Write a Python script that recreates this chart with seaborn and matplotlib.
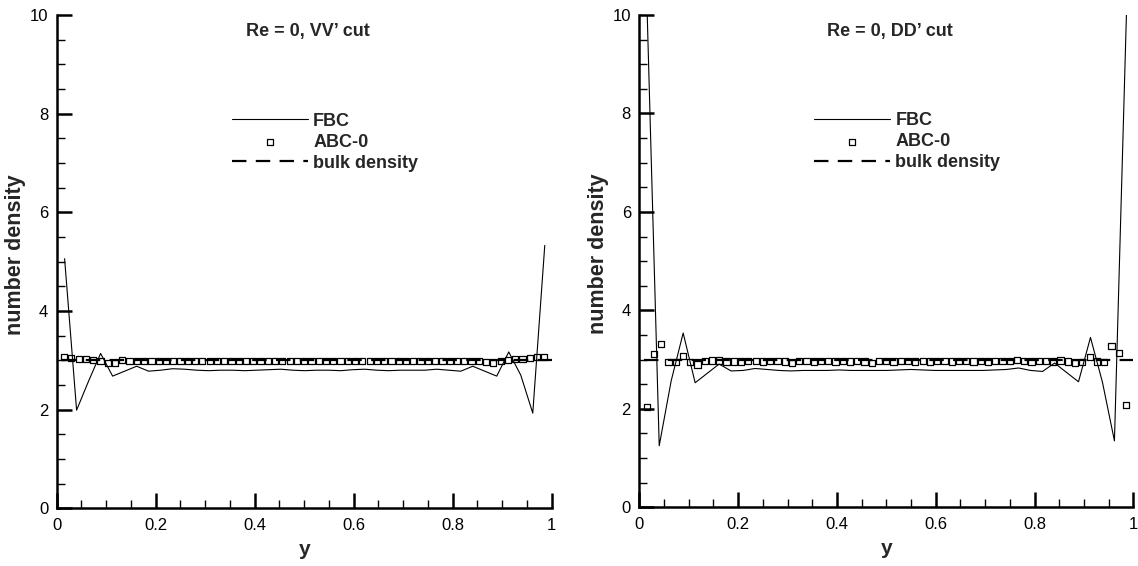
import numpy as np
import pandas as pd
import matplotlib
matplotlib.use("Agg")
import matplotlib.pyplot as plt
from matplotlib.ticker import MultipleLocator, FormatStrFormatter
import seaborn as sns

# ---------------- data ----------------
# FBC sampling grid (uniform mesh across the channel)
FBC_Y = np.linspace(0.016, 0.986, 41)
# ABC-0 sampling grid
ABC_Y = np.linspace(0.015, 0.985, 67)

FBC_VV = [5.06, 1.99, 2.58, 3.14, 2.68, 2.78, 2.88, 2.78, 2.80, 2.83,
          2.82, 2.80, 2.79, 2.80, 2.80, 2.79, 2.80, 2.81, 2.82, 2.80,
          2.79, 2.80, 2.80, 2.79, 2.81, 2.82, 2.80, 2.79, 2.80, 2.80,
          2.80, 2.82, 2.80, 2.78, 2.88, 2.78, 2.68, 3.17, 2.70, 1.93,
          5.33]

FBC_DD = [10.0, 1.25, 2.57, 3.54, 2.53, 2.72, 2.91, 2.77, 2.78, 2.82,
          2.80, 2.78, 2.77, 2.78, 2.78, 2.78, 2.79, 2.78, 2.78, 2.78,
          2.78, 2.79, 2.80, 2.79, 2.78, 2.78, 2.78, 2.78, 2.78, 2.79,
          2.80, 2.83, 2.78, 2.76, 2.93, 2.74, 2.55, 3.45, 2.54, 1.35,
          10.0]

ABC_VV = [3.07, 3.05, 3.02, 3.02, 3.01, 2.99, 2.95, 2.95, 3.00, 2.99,
          2.99, 2.98, 2.98, 2.99, 2.98, 2.98, 2.99, 2.98, 2.98, 2.98,
          2.99, 2.98, 2.98, 2.98, 2.99, 2.98, 2.98, 2.98, 2.98, 2.99,
          2.98, 2.98, 2.98, 2.98, 2.98, 2.99, 2.98, 2.98, 2.98, 2.99,
          2.98, 2.98, 2.98, 2.98, 2.99, 2.98, 2.98, 2.98, 2.98, 2.99,
          2.98, 2.98, 2.98, 2.98, 2.99, 2.98, 2.98, 2.98, 2.97, 2.95,
          2.99, 3.01, 3.02, 3.02, 3.04, 3.06, 3.07]

ABC_DD = [2.03, 3.11, 3.31, 2.95, 2.95, 3.07, 2.95, 2.90, 2.97, 2.98,
          2.98, 2.96, 2.96, 2.96, 2.97, 2.97, 2.96, 2.97, 2.97, 2.96,
          2.93, 2.97, 2.97, 2.96, 2.97, 2.97, 2.96, 2.97, 2.96, 2.97,
          2.96, 2.93, 2.97, 2.97, 2.96, 2.97, 2.97, 2.96, 2.97, 2.96,
          2.97, 2.97, 2.96, 2.97, 2.97, 2.96, 2.97, 2.96, 2.97, 2.97,
          2.97, 3.00, 2.97, 2.96, 2.97, 2.97, 2.96, 2.98, 2.96, 2.93,
          2.95, 3.06, 2.96, 2.95, 3.27, 3.13, 2.08]

BULK_Y = [0.01, 1.0]
BULK_VALUE = [3.0, 3.0]

TITLES = ["Re = 0, VV\u2019 cut", "Re = 0, DD\u2019 cut"]
LABELS = ["FBC", "ABC-0", "bulk density"]
X_LABEL = "y"
Y_LABEL = "number density"

# ---------------- style ----------------
sns.set_theme(style="ticks")
plt.rcParams["font.family"] = ["Liberation Sans", "DejaVu Sans"]
plt.rcParams["axes.unicode_minus"] = False

fig = plt.figure(figsize=(11.38, 5.66), dpi=100)
ax1 = fig.add_axes([0.0498, 0.1019, 0.4350, 0.8716])
ax2 = fig.add_axes([0.5618, 0.1037, 0.4341, 0.8698])

panels = [
    (ax1, FBC_VV, ABC_VV, TITLES[0]),
    (ax2, FBC_DD, ABC_DD, TITLES[1]),
]

for ax, fbc, abc, title in panels:
    fbc_df = pd.DataFrame({"y": FBC_Y, "n": fbc})
    abc_df = pd.DataFrame({"y": ABC_Y, "n": abc})
    bulk_df = pd.DataFrame({"y": BULK_Y, "n": BULK_VALUE})

    sns.lineplot(data=fbc_df, x="y", y="n", ax=ax, color="black",
                 linewidth=0.8, label=LABELS[0], sort=False, clip_on=True)
    sns.scatterplot(data=abc_df, x="y", y="n", ax=ax, marker="s", s=20,
                    facecolors="none", edgecolor="black", linewidth=0.9,
                    label=LABELS[1], zorder=3)
    sns.lineplot(data=bulk_df, x="y", y="n", ax=ax, color="black",
                 linewidth=1.6, dashes=False, label=LABELS[2], sort=False)
    ax.lines[-1].set_dashes((6.5, 4.2))

    ax.set_xlim(0, 1)
    ax.set_ylim(0, 10)
    ax.xaxis.set_major_locator(MultipleLocator(0.2))
    ax.xaxis.set_minor_locator(MultipleLocator(0.05))
    ax.yaxis.set_major_locator(MultipleLocator(2))
    ax.yaxis.set_minor_locator(MultipleLocator(0.5))
    ax.xaxis.set_major_formatter(FormatStrFormatter("%g"))
    ax.yaxis.set_major_formatter(FormatStrFormatter("%g"))

    for side in ["top", "right"]:
        ax.spines[side].set_visible(False)
    for side in ["left", "bottom"]:
        ax.spines[side].set_linewidth(1.8)
        ax.spines[side].set_color("black")

    ax.tick_params(which="major", direction="in", length=11, width=1.8,
                   color="black", labelsize=12, labelcolor="black")
    ax.tick_params(which="minor", direction="in", length=6, width=1.0,
                   color="black")
    ax.tick_params(axis="x", which="major", pad=7)
    ax.tick_params(axis="y", which="major", pad=6)

    ax.set_xlabel(X_LABEL, fontsize=15, fontweight="bold", labelpad=5)
    ax.set_ylabel(Y_LABEL, fontsize=15.5, fontweight="bold")
    ax.yaxis.set_label_coords(-0.062, 0.515)

    ax.text(0.508, 0.966, title, transform=ax.transAxes, ha="center",
            va="center", fontsize=13, fontweight="bold")

    leg = ax.legend(loc="upper left", bbox_to_anchor=(0.354, 0.802),
                    frameon=False, fontsize=13, handlelength=4.2,
                    handletextpad=0.3, labelspacing=0.22, borderpad=0,
                    borderaxespad=0, scatterpoints=1)
    for t in leg.get_texts():
        t.set_fontweight("bold")
    ax.set_facecolor("white")

fig.patch.set_facecolor("white")
fig.savefig("out.png", dpi=100, facecolor="white")
